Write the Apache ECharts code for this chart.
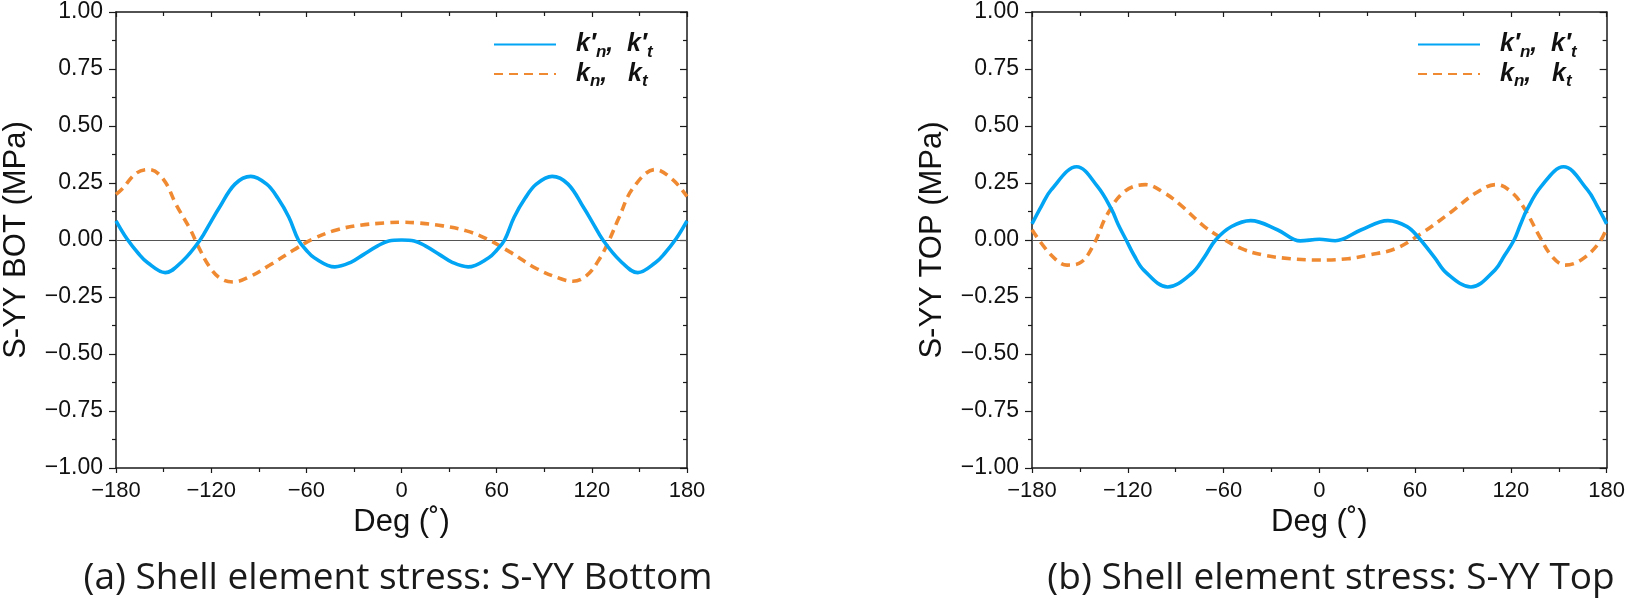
<!DOCTYPE html>
<html>
<head>
<meta charset="utf-8">
<script src="https://cdn.jsdelivr.net/npm/echarts@6/dist/echarts.min.js"></script>
<style>
  html, body { margin: 0; padding: 0; background: #fff; }
  #main { width: 1628px; height: 600px; }
</style>
</head>
<body>
<div id="main"></div>
<script>
// ---- data ----
// (a) S-YY bottom, new stiffness k'n, k't (solid blue)
var botNewDeg = [-180, -173, -166, -160, -149, -138, -127, -120, -115, -105, -95, -85, -78, -71, -65, -60, -55, -42, -32, -24, -15, -8, 0,
                 8, 15, 24, 32, 42, 55, 60, 65, 71, 78, 85, 95, 105, 115, 120, 127, 138, 149, 160, 166, 173, 180];
var botNewVal = [0.084, 0.004, -0.058, -0.100, -0.143, -0.092, 0, 0.082, 0.140, 0.245, 0.279, 0.245, 0.184, 0.100, 0, -0.045, -0.078, -0.118, -0.098, -0.064, -0.026, -0.004, 0,
                 -0.004, -0.026, -0.064, -0.098, -0.118, -0.078, -0.045, 0, 0.100, 0.184, 0.245, 0.279, 0.245, 0.140, 0.082, 0, -0.092, -0.143, -0.100, -0.058, 0.004, 0.084];
// (a) S-YY bottom, old stiffness kn, kt (dashed orange)
var botOldDeg = [-180, -176, -167, -159, -150, -142, -133, -128, -121, -114, -106, -96, -83, -68, -56, -41, -26, -10, 0,
                 10, 26, 41, 54, 68, 85, 100, 108, 117, 125, 131, 137, 146, 160, 171, 180];
var botOldVal = [0.200, 0.225, 0.294, 0.309, 0.265, 0.154, 0.044, -0.030, -0.118, -0.169, -0.184, -0.162, -0.110, -0.044, 0.004, 0.044, 0.065, 0.075, 0.078,
                 0.075, 0.062, 0.040, 0.004, -0.051, -0.125, -0.169, -0.181, -0.154, -0.081, 0, 0.096, 0.228, 0.309, 0.265, 0.191];
// (b) S-YY top, new stiffness
var topNewDeg = [-180, -174, -168, -152, -139, -130, -126, -121, -116, -110, -95, -80, -72, -65, -55, -43, -26, -12, 0,
                 10, 26, 43, 55, 62, 72, 80, 95, 110, 116, 122, 126, 130, 139, 153, 168, 174, 180];
var topNewVal = [0.071, 0.150, 0.220, 0.321, 0.235, 0.132, 0.068, 0, -0.068, -0.132, -0.206, -0.147, -0.075, 0, 0.059, 0.085, 0.044, -0.004, 0.003,
                 -0.003, 0.044, 0.085, 0.059, 0.012, -0.075, -0.147, -0.206, -0.132, -0.068, 0, 0.068, 0.132, 0.235, 0.321, 0.220, 0.150, 0.071];
// (b) S-YY top, old stiffness
var topOldDeg = [-180, -168, -158, -149, -141, -133, -122, -109, -97, -87, -72, -62, -49, -35, -18, 0,
                 18, 31, 48, 64, 83, 98, 111, 121, 129, 138, 146, 154, 164, 175, 180];
var topOldVal = [0.045, -0.066, -0.110, -0.096, -0.015, 0.110, 0.213, 0.243, 0.206, 0.154, 0.059, 0.012, -0.037, -0.066, -0.082, -0.088,
                 -0.082, -0.066, -0.037, 0.029, 0.125, 0.206, 0.243, 0.206, 0.132, 0.015, -0.074, -0.110, -0.088, -0.015, 0.051];

var yLabels = ['BOT', 'TOP'];
var captions = ['(a) Shell element stress: S-YY Bottom', '(b) Shell element stress: S-YY Top'];
var nameNew = "k′n, k′t";
var nameOld = "kn, kt";

var BLUE = '#02A4F4';
var ORANGE = '#F08A32';
var AXIS = '#1a1a1a';

function zip(xs, ys) {
  var out = [];
  for (var i = 0; i < xs.length; i++) out.push([xs[i], ys[i]]);
  return out;
}
function minus(v) { return String(v).replace('-', '\u2212'); }

var grids = [
  { left: 116, top: 12, width: 571, height: 456 },
  { left: 1032, top: 12, width: 576, height: 456 }
];

var nameFont = { fontFamily: 'Liberation Sans', fontSize: 31, color: '#111' };

var xAxes = [], yAxes = [];
for (var g = 0; g < 2; g++) {
  xAxes.push({
    gridIndex: g, type: 'value', min: -180, max: 180, interval: 60, position: 'bottom',
    name: 'Deg (˚)', nameLocation: 'middle', nameGap: 39, nameTextStyle: nameFont,
    axisLine: { onZero: false, lineStyle: { color: AXIS, width: 1.5 } },
    axisTick: { inside: false, length: 5, lineStyle: { color: AXIS, width: 1.2 } },
    minorTick: { show: true, splitNumber: 2, length: 4, lineStyle: { color: AXIS, width: 1.2 } },
    axisLabel: { fontFamily: 'Liberation Sans', fontSize: 22, color: '#111', margin: 12,
                 formatter: function (v) { return minus(v); } },
    splitLine: { show: false }
  });
  xAxes.push({
    gridIndex: g, type: 'value', min: -180, max: 180, interval: 60, position: 'top',
    axisLine: { onZero: false, lineStyle: { color: AXIS, width: 1.5 } },
    axisTick: { inside: true, length: 5, lineStyle: { color: AXIS, width: 1.2 } },
    minorTick: { show: true, splitNumber: 2, length: 4, lineStyle: { color: AXIS, width: 1.2 } },
    axisLabel: { show: false }, splitLine: { show: false }
  });
  yAxes.push({
    gridIndex: g, type: 'value', min: -1, max: 1, interval: 0.25, position: 'left',
    name: 'S-YY ' + yLabels[g] + ' (MPa)', nameLocation: 'middle', nameGap: 84, nameTextStyle: nameFont,
    axisLine: { onZero: false, lineStyle: { color: AXIS, width: 1.5 } },
    axisTick: { inside: false, length: 7, lineStyle: { color: AXIS, width: 1.2 } },
    minorTick: { show: true, splitNumber: 2, length: 4, lineStyle: { color: AXIS, width: 1.2 } },
    axisLabel: { fontFamily: 'Liberation Sans', fontSize: 23, color: '#111', margin: 13,
                 formatter: function (v) { return minus(v.toFixed(2)); } },
    splitLine: { show: false }
  });
  yAxes.push({
    gridIndex: g, type: 'value', min: -1, max: 1, interval: 0.25, position: 'right',
    axisLine: { onZero: false, lineStyle: { color: AXIS, width: 1.5 } },
    axisTick: { inside: true, length: 7, lineStyle: { color: AXIS, width: 1.2 } },
    minorTick: { show: true, splitNumber: 2, length: 4, lineStyle: { color: AXIS, width: 1.2 } },
    axisLabel: { show: false }, splitLine: { show: false }
  });
}

function lineSeries(name, data, g, color, dashed, withZero) {
  var s = {
    name: name, type: 'line', data: data, smooth: 0.38, symbol: 'none',
    xAxisIndex: g * 2, yAxisIndex: g * 2,
    lineStyle: { color: color, width: 3.6, type: dashed ? [9, 6] : 'solid', cap: 'butt' },
    itemStyle: { color: color },
    z: dashed ? 3 : 4, silent: true
  };
  if (withZero) {
    s.markLine = {
      silent: true, symbol: 'none', label: { show: false },
      lineStyle: { color: '#555', width: 1, type: 'solid' },
      data: [{ yAxis: 0 }], z: 1
    };
  }
  return s;
}

var legendRich = {
  pad: { width: 15 },
  k: { fontFamily: 'Liberation Sans', fontWeight: 'bold', fontStyle: 'italic', fontSize: 25, color: '#111', lineHeight: 32 },
  s: { fontFamily: 'Liberation Sans', fontWeight: 'bold', fontStyle: 'italic', fontSize: 17, color: '#111',
       lineHeight: 16, verticalAlign: 'bottom' }
};
function legendFmt(name) {
  if (name === nameNew) return '{pad|}{k|k′}{s|n}{k|,  k′}{s|t}';
  return '{pad|}{k|k}{s|n}{k|,   k}{s|t}';
}
function legendAt(left) {
  return {
    orient: 'vertical', left: left, top: 27, itemWidth: 62, itemHeight: 14, itemGap: 1,
    data: [nameNew, nameOld], selectedMode: false, formatter: legendFmt,
    itemStyle: { opacity: 0 },
    textStyle: { rich: legendRich }
  };
}

var capStyle = { fontFamily: 'Open Sans', fontSize: 37, fill: '#1a1a1a', textAlign: 'center', textVerticalAlign: 'middle' };

var chart = echarts.init(document.getElementById('main'), null, { renderer: 'canvas' });
chart.setOption({
  animation: false,
  backgroundColor: '#fff',
  grid: grids,
  xAxis: xAxes,
  yAxis: yAxes,
  legend: [legendAt(488), legendAt(1412)],
  graphic: [
    { type: 'text', x: 398, y: 578, style: Object.assign({ text: captions[0] }, capStyle) },
    { type: 'text', x: 1331, y: 578, style: Object.assign({ text: captions[1] }, capStyle) }
  ],
  series: [
    lineSeries(nameOld, zip(botOldDeg, botOldVal), 0, ORANGE, true, true),
    lineSeries(nameNew, zip(botNewDeg, botNewVal), 0, BLUE, false, false),
    lineSeries(nameOld, zip(topOldDeg, topOldVal), 1, ORANGE, true, true),
    lineSeries(nameNew, zip(topNewDeg, topNewVal), 1, BLUE, false, false)
  ]
});
</script>
</body>
</html>
